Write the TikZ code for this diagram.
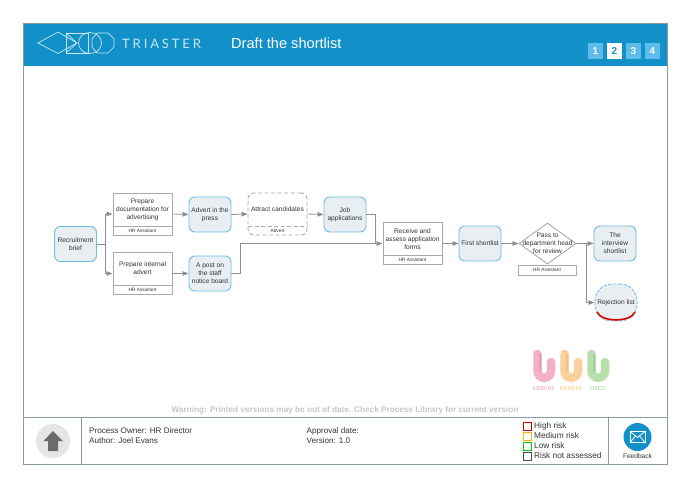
\documentclass[tikz,border=0pt]{standalone}
\usepackage{fontspec}
\setmainfont{Liberation Sans}
\newfontfamily\triafont[LetterSpace=22]{Lato}
\usetikzlibrary{arrows.meta,shapes.geometric}
\definecolor{hdr}{HTML}{1290C8}
\definecolor{frm}{HTML}{8A9BA3}
\definecolor{boxln}{HTML}{A3ACAF}
\definecolor{wire}{HTML}{8E8E8E}
\definecolor{fillb}{HTML}{E8EEF2}
\definecolor{blueln}{HTML}{6FBFE3}
\definecolor{txt}{HTML}{333333}
\definecolor{num}{HTML}{5CBDEA}
\definecolor{logo}{HTML}{C8E8F7}
\definecolor{upink}{HTML}{F3B0C6}
\definecolor{upinkd}{HTML}{E8A0B8}
\definecolor{uorng}{HTML}{FBD09C}
\definecolor{uorngd}{HTML}{F0C08A}
\definecolor{ugrn}{HTML}{B8DEAC}
\definecolor{ugrnd}{HTML}{A6CE99}
\tikzset{
 x=1pt,y=-1pt,
 every node/.style={font=\fontsize{6.6}{8}\selectfont,text=txt,align=center,inner sep=0pt},
 data/.style={draw=blueln,fill=fillb,line width=.9pt,rounded corners=6pt,minimum width=42pt,minimum height=35pt},
 procbox/.style={draw=boxln,fill=white,line width=.9pt,minimum width=59pt,minimum height=42pt},
 dashbox/.style={procbox,rounded corners=6pt,dash pattern=on 4pt off 2.5pt},
 role/.style={font=\fontsize{4.8}{6}\selectfont},
 wirel/.style={draw=wire,line width=.8pt},
 flow/.style={wirel,-{Triangle[length=6pt,width=4.5pt,fill=wire]}},
 numbox/.style={fill=num,minimum width=15pt,minimum height=16pt,font=\fontsize{10}{11}\selectfont\bfseries,text=white},
 legbox/.style={draw,line width=.8pt,minimum width=8pt,minimum height=8pt},
 legtxt/.style={anchor=west,font=\fontsize{8.3}{10}\selectfont},
 foot/.style={anchor=west,font=\fontsize{8.1}{10}\selectfont,align=left},
 logoline/.style={draw=logo,line width=.7pt},
 uglyph/.style={line width=8.5pt,line cap=round},
 uface/.style={line width=2.5pt,line cap=butt},
 utxt/.style={font=\fontsize{5.6}{7}\sffamily\bfseries\selectfont},
}
\begin{document}
\begin{tikzpicture}
\useasboundingbox (0,0) rectangle (690,486);
\fill[white] (0,0) rectangle (690,486);
% frame and header
\fill[hdr] (23.5,24) rectangle (667,66);
\draw[frm,line width=.9pt] (23.5,23.5) rectangle (667,464);
% logo
\draw[logoline] (38,43) -- (58,32) -- (77,43) -- (58,53.5) -- cycle;
\draw[logoline] (66,33) rectangle (88,53);
\draw[logoline] (66,33) -- (77,43) -- (66,53);
\draw[logoline] (90,43) ellipse[x radius=11.5,y radius=10.5];
\draw[logoline] (97,33) -- (108,33) -- (114,39) -- (114,47) -- (108,53) -- (97,53) -- (92,47) -- (92,39) -- cycle;
\node[anchor=west,text=logo,font=\fontsize{13}{15}\triafont] (brand) at (122,43.5) {TRIASTER};
\node[anchor=west,text=white,font=\fontsize{14.6}{16}\selectfont] (title) at (231,43.5) {Draft the shortlist};
\node[numbox] (n1) at (595.5,51) {1};
\node[numbox,fill=white,text=hdr] (n2) at (614.5,51) {2};
\node[numbox] (n3) at (633.5,51) {3};
\node[numbox] (n4) at (652.5,51) {4};
% nodes
\node[data] (brief) at (75.5,244) {Recruitment\\brief};
\node[procbox] (doc) at (142.5,214) {};
\draw[boxln,line width=.9pt] (113,226) -- (172,226);
\node (doct) at (142.5,209.5) {Prepare\\documentation for\\advertising};
\node[role] (docr) at (142.5,230.5) {HR Assistant};
\node[procbox] (intl) at (142.5,273.5) {};
\draw[boxln,line width=.9pt] (113,285) -- (172,285);
\node (intlt) at (142.5,268.5) {Prepare internal\\advert};
\node[role] (intlr) at (142.5,289.5) {HR Assistant};
\node[data] (press) at (210,214.5) {Advert in the\\press};
\node[data] (post) at (210,273.5) {A post on\\the staff\\notice board};
\node[dashbox] (attr) at (277.5,214) {};
\draw[boxln,line width=.9pt,dash pattern=on 4pt off 2.5pt] (248,226) -- (307,226);
\node (attrt) at (277.5,209.5) {Attract candidates};
\node[role] (attrr) at (277.5,230.5) {Advert};
\node[data] (job) at (345,214.5) {Job\\applications};
\node[procbox] (recv) at (412.5,243.5) {};
\draw[boxln,line width=.9pt] (383,255) -- (442,255);
\node (recvt) at (412.5,239) {Receive and\\assess application\\forms};
\node[role] (recvr) at (412.5,259.5) {HR Assistant};
\node[data] (first) at (480,243.5) {First shortlist};
\node[diamond,draw=boxln,fill=white,line width=.9pt,minimum width=57pt,minimum height=41pt] (dec) at (547.5,243.5) {};
\node (dect) at (547.5,243.5) {Pass to\\department head\\for review};
\node[draw=boxln,fill=white,line width=.9pt,minimum width=58pt,minimum height=10pt,role] (decr) at (547,270) {HR Assistant};
\node[data] (intv) at (615,243.5) {The\\interview\\shortlist};
\node[draw=blueln,fill=fillb,line width=.9pt,dash pattern=on 3pt off 1.5pt,rounded corners=17pt,minimum width=42pt,minimum height=37pt] (rej) at (616,302.5) {Rejection list};
\draw[red!85!black,line width=1.6pt] (597,312) .. controls (601,322.5) and (631,322.5) .. (635,312);
% connectors
\coordinate (fork) at (105,244);
\coordinate (joinb) at (240,273.5);
\coordinate (joint) at (240,243.5);
\coordinate (jobr) at (375,214.5);
\coordinate (jobd) at (375,243.5);
\coordinate (split) at (586,243.5);
\draw[wirel] (brief.east) -- (fork);
\draw[flow] (fork) |- (doc.west);
\draw[flow] (fork) |- (intl.west);
\draw[flow] (doc.east) -- (press.west);
\draw[flow] (intl.east) -- (post.west);
\draw[flow] (press.east) -- (attr.west);
\draw[flow] (attr.east) -- (job.west);
\draw[wirel] (job.east) -- (jobr) -- (jobd);
\draw[wirel] (post.east) -- (joinb) -- (joint);
\draw[flow] (joint) -- (recv.west);
\draw[flow] (recv.east) -- (first.west);
\draw[flow] (first.east) -- (dec.west);
\draw[flow] (dec.east) -- (intv.west);
\draw[flow] (split) |- (rej.west);
% usability logo
\foreach \ux/\uc/\ud in {537.5/upink/upinkd,564.5/uorng/uorngd,591.5/ugrn/ugrnd}{
 \draw[uglyph,draw=\uc] (\ux,354) -- (\ux,371) arc[start angle=180,end angle=0,radius=6.75] -- ++(0,-9);
 \draw[uface,draw=\ud] (\ux+2.5,354) -- (\ux+2.5,372);
}
\node[utxt,text=upink] (useful) at (544,388.5) {USEFUL};
\node[utxt,text=uorng] (usable) at (571,388.5) {USABLE};
\node[utxt,text=ugrn] (used) at (598,388.5) {USED};
% footer
\node[text=black!22,font=\fontsize{8.2}{10}\bfseries\selectfont] (warn) at (345,410) {Warning: Printed versions may be out of date. Check Process Library for current version};
\draw[frm,line width=.9pt] (23.5,417.5) -- (667,417.5);
\draw[frm,line width=.9pt] (81,417.5) -- (81,464);
\draw[frm,line width=.9pt] (608,417.5) -- (608,464);
\node[circle,fill=black!10,minimum size=34pt] (up) at (53,441) {};
\fill[black!58] (53,431) -- (63,441) -- (58,441) -- (58,451) -- (48,451) -- (48,441) -- (43.5,441) -- cycle;
\node[foot] (owner) at (89,431) {Process Owner: HR Director};
\node[foot] (author) at (89,441) {Author: Joel Evans};
\node[foot] (appr) at (306.5,431) {Approval date:};
\node[foot] (vers) at (306.5,441) {Version: 1.0};
\node[legbox,draw=red!80!black] (l1) at (527,426) {};
\node[legbox,draw=orange!60!yellow] (l2) at (527,436) {};
\node[legbox,draw=green!80!black] (l3) at (527,446) {};
\node[legbox,draw=black!70] (l4) at (527,456) {};
\node[legtxt] (t1) at (534,426) {High risk};
\node[legtxt] (t2) at (534,436) {Medium risk};
\node[legtxt] (t3) at (534,446) {Low risk};
\node[legtxt] (t4) at (534,456) {Risk not assessed};
\node[circle,fill=hdr,minimum size=28pt] (fb) at (637.5,437) {};
\draw[white,line width=.8pt] (630,431.5) rectangle (645,442.5);
\draw[white,line width=.8pt] (630,431.5) -- (637.5,437.5) -- (645,431.5);
\draw[white,line width=.8pt] (630,442.5) -- (635.5,436);
\draw[white,line width=.8pt] (645,442.5) -- (639.5,436);
\node (fbt) at (637.5,456) {Feedback};
\end{tikzpicture}
\end{document}
